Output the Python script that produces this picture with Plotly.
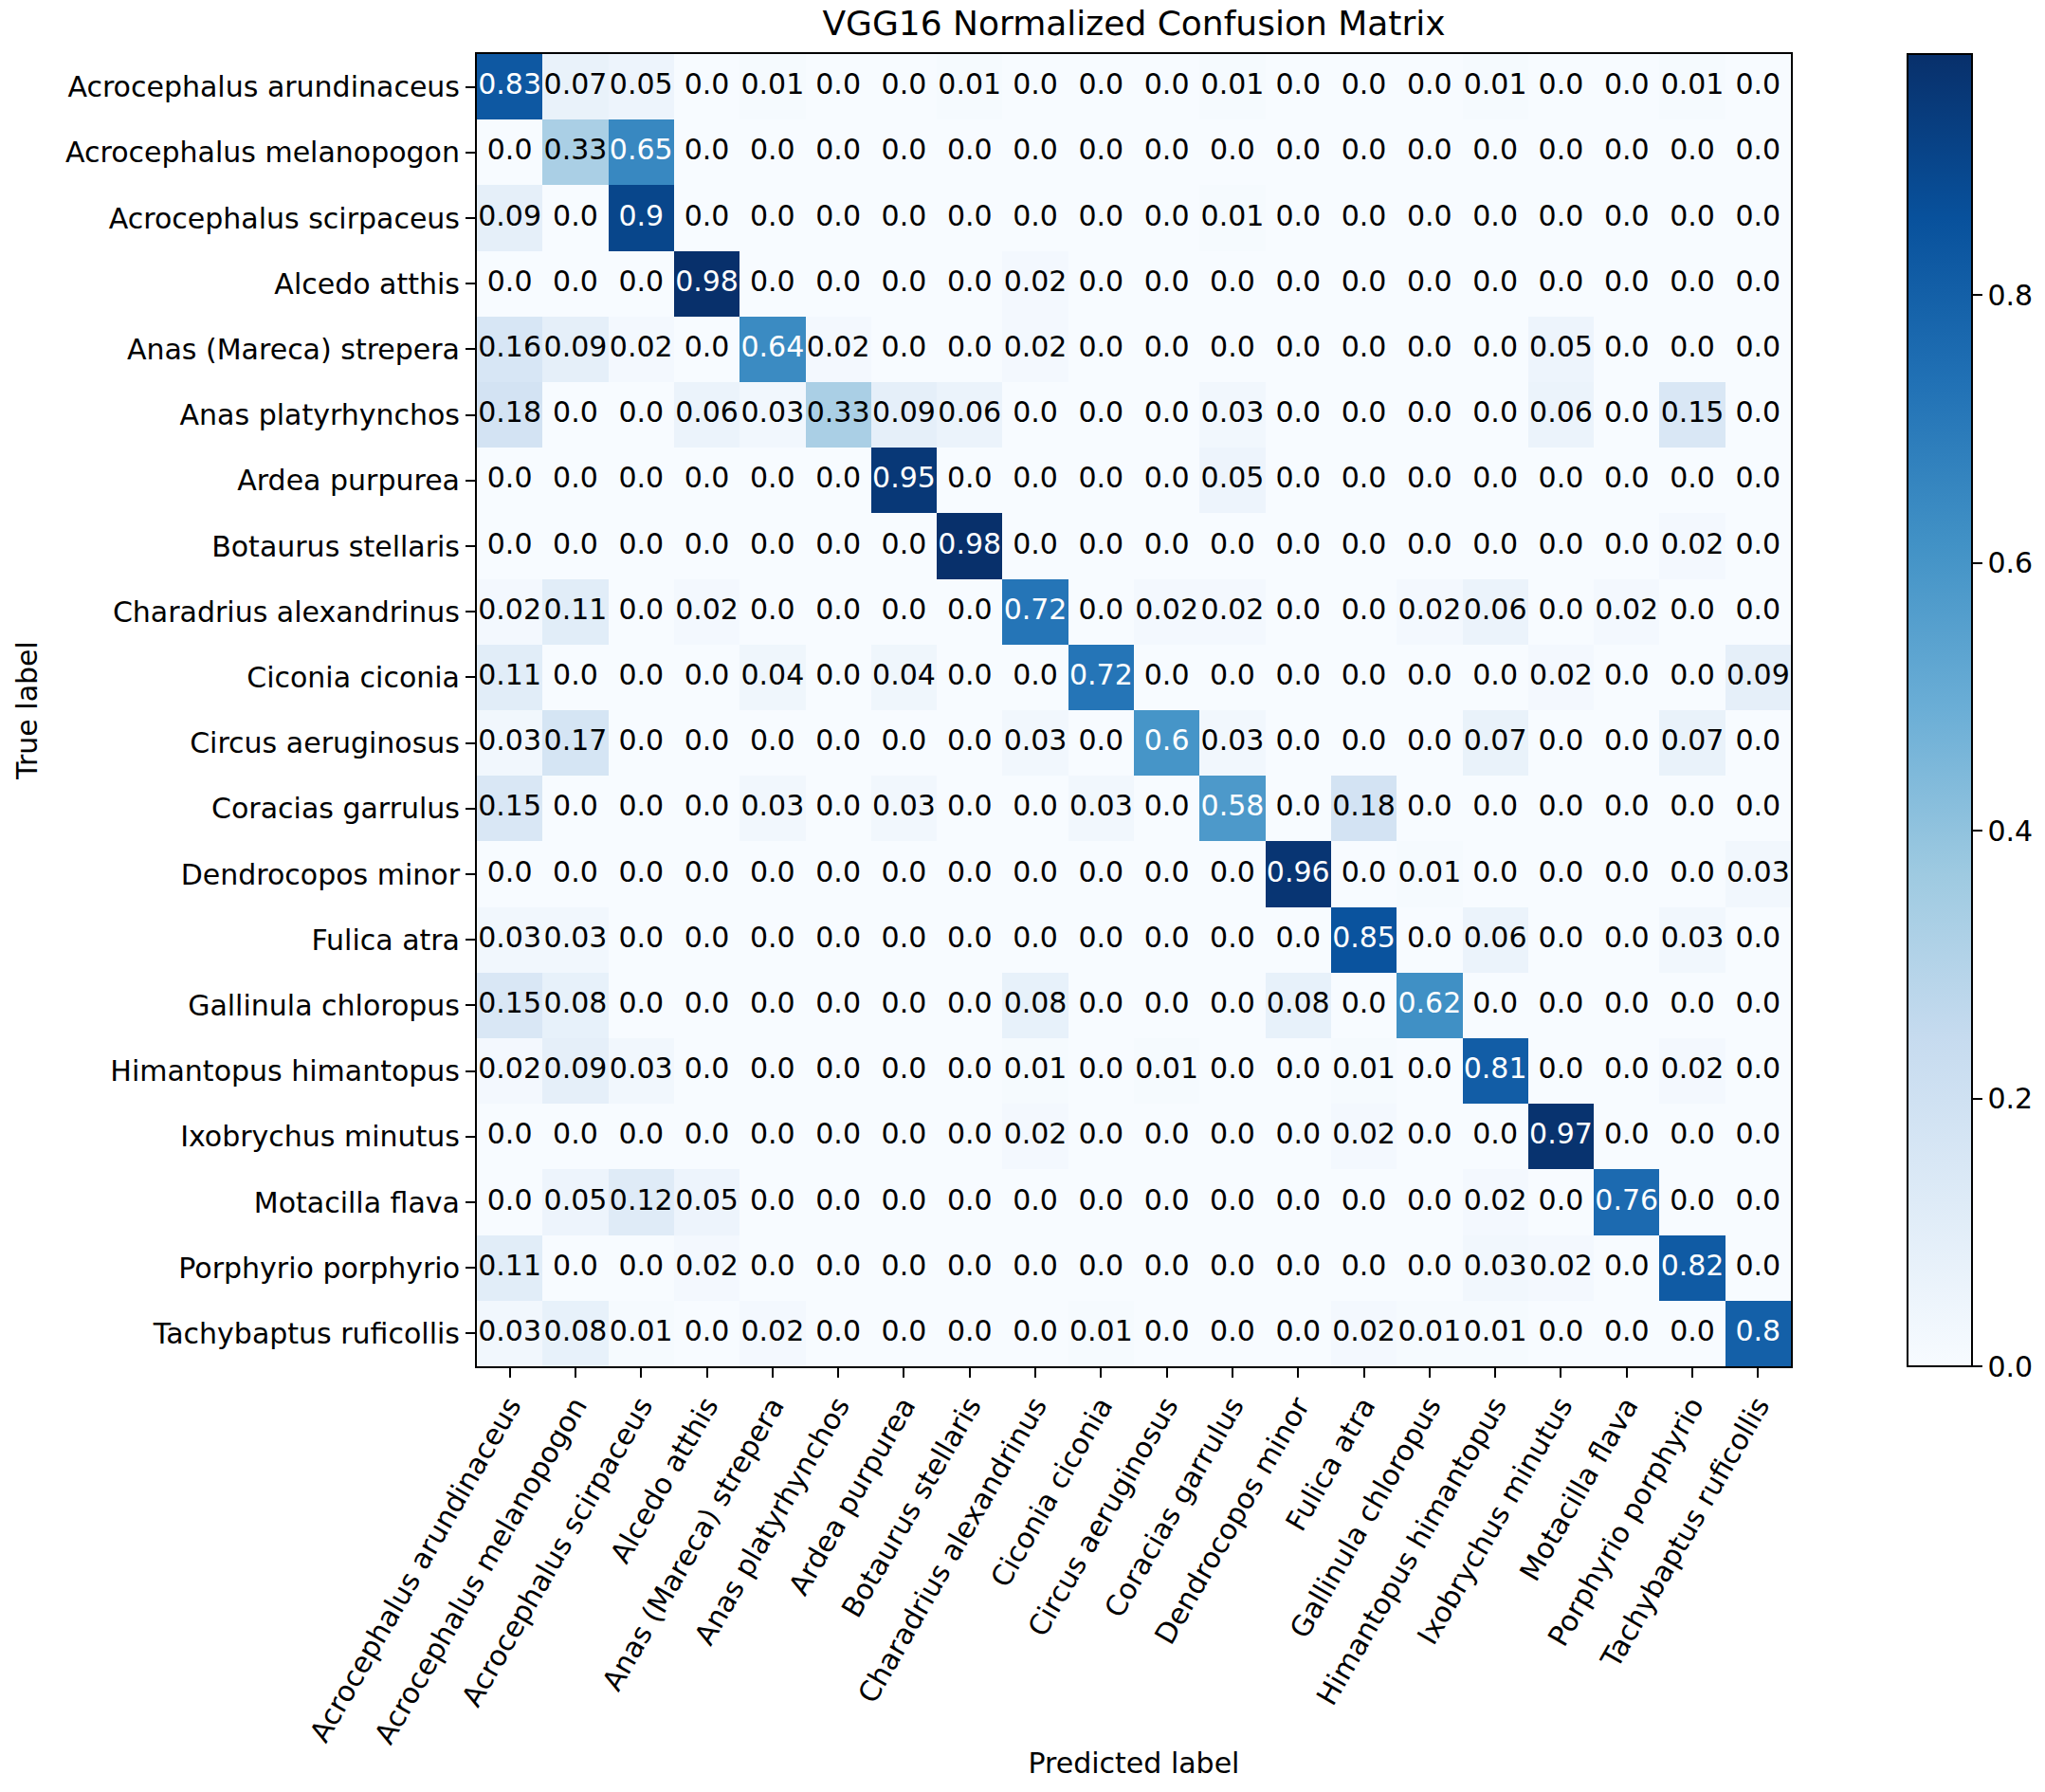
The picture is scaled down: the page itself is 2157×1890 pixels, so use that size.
import plotly.graph_objects as go

labels = [
    "Acrocephalus arundinaceus", "Acrocephalus melanopogon", "Acrocephalus scirpaceus",
    "Alcedo atthis", "Anas (Mareca) strepera", "Anas platyrhynchos", "Ardea purpurea",
    "Botaurus stellaris", "Charadrius alexandrinus", "Ciconia ciconia", "Circus aeruginosus",
    "Coracias garrulus", "Dendrocopos minor", "Fulica atra", "Gallinula chloropus",
    "Himantopus himantopus", "Ixobrychus minutus", "Motacilla flava", "Porphyrio porphyrio",
    "Tachybaptus ruficollis",
]

row_00 = [0.83, 0.07, 0.05, 0.0, 0.01, 0.0, 0.0, 0.01, 0.0, 0.0, 0.0, 0.01, 0.0, 0.0, 0.0, 0.01, 0.0, 0.0, 0.01, 0.0]
row_01 = [0.0, 0.33, 0.65, 0.0, 0.0, 0.0, 0.0, 0.0, 0.0, 0.0, 0.0, 0.0, 0.0, 0.0, 0.0, 0.0, 0.0, 0.0, 0.0, 0.0]
row_02 = [0.09, 0.0, 0.9, 0.0, 0.0, 0.0, 0.0, 0.0, 0.0, 0.0, 0.0, 0.01, 0.0, 0.0, 0.0, 0.0, 0.0, 0.0, 0.0, 0.0]
row_03 = [0.0, 0.0, 0.0, 0.98, 0.0, 0.0, 0.0, 0.0, 0.02, 0.0, 0.0, 0.0, 0.0, 0.0, 0.0, 0.0, 0.0, 0.0, 0.0, 0.0]
row_04 = [0.16, 0.09, 0.02, 0.0, 0.64, 0.02, 0.0, 0.0, 0.02, 0.0, 0.0, 0.0, 0.0, 0.0, 0.0, 0.0, 0.05, 0.0, 0.0, 0.0]
row_05 = [0.18, 0.0, 0.0, 0.06, 0.03, 0.33, 0.09, 0.06, 0.0, 0.0, 0.0, 0.03, 0.0, 0.0, 0.0, 0.0, 0.06, 0.0, 0.15, 0.0]
row_06 = [0.0, 0.0, 0.0, 0.0, 0.0, 0.0, 0.95, 0.0, 0.0, 0.0, 0.0, 0.05, 0.0, 0.0, 0.0, 0.0, 0.0, 0.0, 0.0, 0.0]
row_07 = [0.0, 0.0, 0.0, 0.0, 0.0, 0.0, 0.0, 0.98, 0.0, 0.0, 0.0, 0.0, 0.0, 0.0, 0.0, 0.0, 0.0, 0.0, 0.02, 0.0]
row_08 = [0.02, 0.11, 0.0, 0.02, 0.0, 0.0, 0.0, 0.0, 0.72, 0.0, 0.02, 0.02, 0.0, 0.0, 0.02, 0.06, 0.0, 0.02, 0.0, 0.0]
row_09 = [0.11, 0.0, 0.0, 0.0, 0.04, 0.0, 0.04, 0.0, 0.0, 0.72, 0.0, 0.0, 0.0, 0.0, 0.0, 0.0, 0.02, 0.0, 0.0, 0.09]
row_10 = [0.03, 0.17, 0.0, 0.0, 0.0, 0.0, 0.0, 0.0, 0.03, 0.0, 0.6, 0.03, 0.0, 0.0, 0.0, 0.07, 0.0, 0.0, 0.07, 0.0]
row_11 = [0.15, 0.0, 0.0, 0.0, 0.03, 0.0, 0.03, 0.0, 0.0, 0.03, 0.0, 0.58, 0.0, 0.18, 0.0, 0.0, 0.0, 0.0, 0.0, 0.0]
row_12 = [0.0, 0.0, 0.0, 0.0, 0.0, 0.0, 0.0, 0.0, 0.0, 0.0, 0.0, 0.0, 0.96, 0.0, 0.01, 0.0, 0.0, 0.0, 0.0, 0.03]
row_13 = [0.03, 0.03, 0.0, 0.0, 0.0, 0.0, 0.0, 0.0, 0.0, 0.0, 0.0, 0.0, 0.0, 0.85, 0.0, 0.06, 0.0, 0.0, 0.03, 0.0]
row_14 = [0.15, 0.08, 0.0, 0.0, 0.0, 0.0, 0.0, 0.0, 0.08, 0.0, 0.0, 0.0, 0.08, 0.0, 0.62, 0.0, 0.0, 0.0, 0.0, 0.0]
row_15 = [0.02, 0.09, 0.03, 0.0, 0.0, 0.0, 0.0, 0.0, 0.01, 0.0, 0.01, 0.0, 0.0, 0.01, 0.0, 0.81, 0.0, 0.0, 0.02, 0.0]
row_16 = [0.0, 0.0, 0.0, 0.0, 0.0, 0.0, 0.0, 0.0, 0.02, 0.0, 0.0, 0.0, 0.0, 0.02, 0.0, 0.0, 0.97, 0.0, 0.0, 0.0]
row_17 = [0.0, 0.05, 0.12, 0.05, 0.0, 0.0, 0.0, 0.0, 0.0, 0.0, 0.0, 0.0, 0.0, 0.0, 0.0, 0.02, 0.0, 0.76, 0.0, 0.0]
row_18 = [0.11, 0.0, 0.0, 0.02, 0.0, 0.0, 0.0, 0.0, 0.0, 0.0, 0.0, 0.0, 0.0, 0.0, 0.0, 0.03, 0.02, 0.0, 0.82, 0.0]
row_19 = [0.03, 0.08, 0.01, 0.0, 0.02, 0.0, 0.0, 0.0, 0.0, 0.01, 0.0, 0.0, 0.0, 0.02, 0.01, 0.01, 0.0, 0.0, 0.0, 0.8]

matrix = [row_00, row_01, row_02, row_03, row_04, row_05, row_06, row_07, row_08, row_09,
          row_10, row_11, row_12, row_13, row_14, row_15, row_16, row_17, row_18, row_19]

colorbar_ticks = [0.0, 0.2, 0.4, 0.6, 0.8]

blues = [
    [0.0, "rgb(247,251,255)"], [0.125, "rgb(222,235,247)"], [0.25, "rgb(198,219,239)"],
    [0.375, "rgb(158,202,225)"], [0.5, "rgb(107,174,214)"], [0.625, "rgb(66,146,198)"],
    [0.75, "rgb(33,113,181)"], [0.875, "rgb(8,81,156)"], [1.0, "rgb(8,48,107)"],
]

zmax = max(max(r) for r in matrix)
thresh = zmax / 2.0
n = len(labels)

FONT = "DejaVu Sans"
# page body has an 8px margin, so everything is offset by -8
W, H = 2149, 1882
L, R, T, B = 495, 60, 49, 449
pw = W - L - R
plot_w = 1386

fig = go.Figure()
fig.add_trace(go.Heatmap(
    z=matrix, x=labels, y=labels, colorscale=blues, zmin=0, zmax=zmax,
    hoverinfo="skip",
    colorbar=dict(
        x=(2004 - L) / pw, xanchor="left", xpad=0, ypad=0,
        y=0.5, yanchor="middle", len=1.0, lenmode="fraction",
        thickness=68, thicknessmode="pixels",
        outlinecolor="black", outlinewidth=2,
        tickvals=colorbar_ticks, ticktext=[f"{v:.1f}" for v in colorbar_ticks],
        ticks="outside", ticklen=10, tickwidth=2, tickcolor="black",
        tickfont=dict(family=FONT, size=30, color="black"),
    ),
))

xs, ys, txt, cols = [], [], [], []
for i, row in enumerate(matrix):
    for j, v in enumerate(row):
        xs.append(labels[j])
        ys.append(labels[i])
        txt.append(str(v))
        cols.append("white" if v > thresh else "black")

fig.add_trace(go.Scatter(
    x=xs, y=ys, mode="text", text=txt,
    textfont=dict(family=FONT, size=30, color=cols),
    hoverinfo="skip", showlegend=False,
))

fig.update_layout(
    width=W, height=H,
    margin=dict(l=L, r=R, t=T, b=B, autoexpand=False),
    paper_bgcolor="white", plot_bgcolor="white",
    font=dict(family=FONT, size=30, color="black"),
    title=dict(text="VGG16 Normalized Confusion Matrix", x=(L + plot_w / 2) / W,
               xanchor="center", y=1 - 4 / H, yanchor="top",
               font=dict(family=FONT, size=36, color="black")),
    xaxis=dict(
        domain=[0, plot_w / pw], type="category", categoryorder="array", categoryarray=labels,
        range=[-0.5, n - 0.5], autorange=False,
        tickangle=-60, ticks="outside", ticklen=10, tickwidth=2, tickcolor="black",
        showline=True, linecolor="black", linewidth=2, mirror=True,
        showgrid=False, zeroline=False, automargin=False,
        tickfont=dict(family=FONT, size=30, color="black"),
        title=dict(text="Predicted label", font=dict(family=FONT, size=30, color="black"), standoff=5),
    ),
    yaxis=dict(
        type="category", categoryorder="array", categoryarray=labels,
        range=[n - 0.5, -0.5], autorange=False,
        ticks="outside", ticklen=10, tickwidth=2, tickcolor="black",
        showline=True, linecolor="black", linewidth=2, mirror=True,
        showgrid=False, zeroline=False, automargin=False,
        tickfont=dict(family=FONT, size=30, color="black"),
        title=dict(text="True label", font=dict(family=FONT, size=30, color="black"), standoff=20),
    ),
)

fig.write_html("out.html", config={"displayModeBar": False})
